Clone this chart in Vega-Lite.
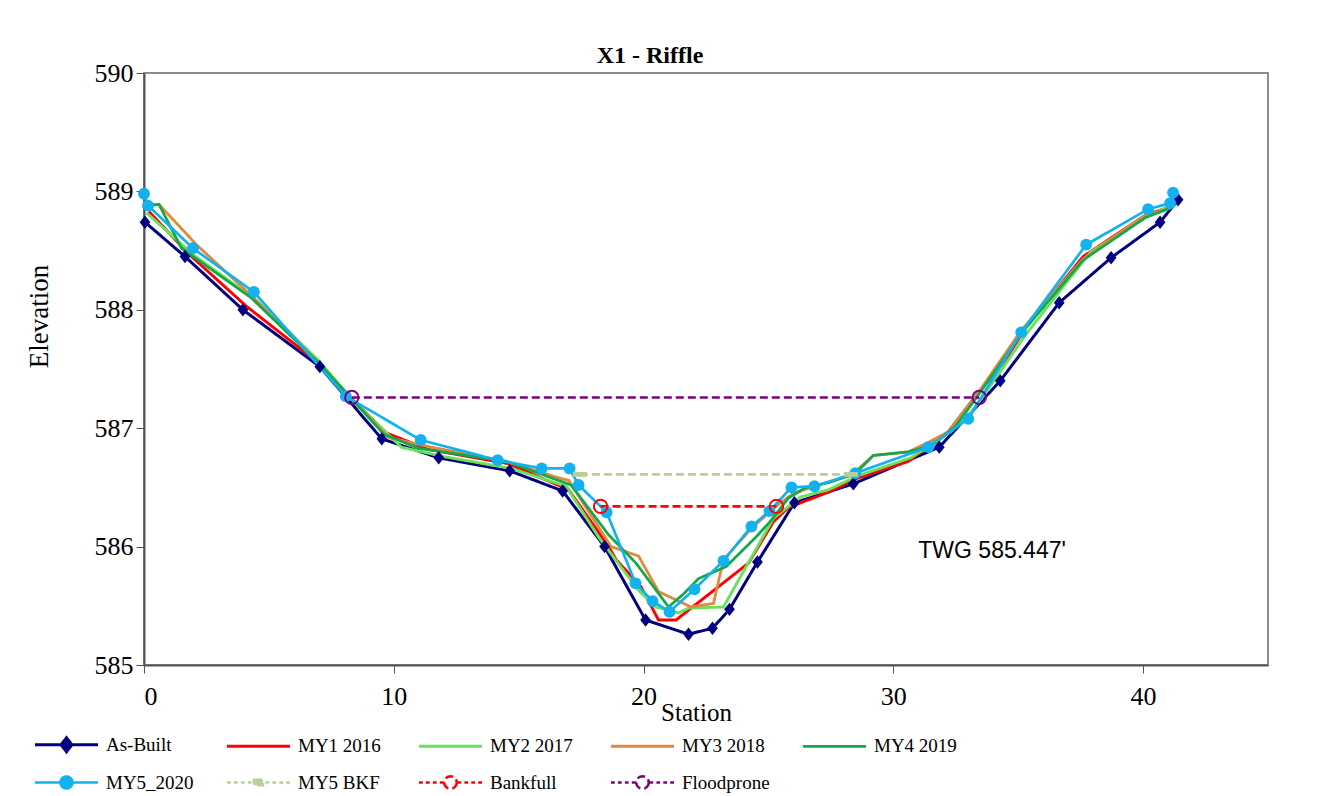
{
  "$schema": "https://vega.github.io/schema/vega-lite/v6.json",
  "width": 1124,
  "height": 592,
  "autosize": "none",
  "padding": {"left": 144, "top": 73, "right": 54, "bottom": 131},
  "background": "white",
  "config": {
    "view": {"stroke": "#8c8c8c", "strokeWidth": 2},
    "font": "Liberation Serif",
    "title": {"font": "Liberation Serif", "fontWeight": "bold", "fontSize": 24, "color": "black"}
  },
  "title": {
    "text": "X1 - Riffle",
    "font": "Liberation Serif",
    "fontSize": 24,
    "fontWeight": "bold",
    "color": "black",
    "anchor": "middle",
    "dx": -56,
    "offset": -8
  },
  "data": {
    "values": [
      {"s": "As-Built", "x": 0.04, "y": 588.74},
      {"s": "As-Built", "x": 1.64, "y": 588.45},
      {"s": "As-Built", "x": 3.96, "y": 588.0},
      {"s": "As-Built", "x": 7.04, "y": 587.52},
      {"s": "As-Built", "x": 9.52, "y": 586.91},
      {"s": "As-Built", "x": 11.8, "y": 586.75},
      {"s": "As-Built", "x": 14.64, "y": 586.64},
      {"s": "As-Built", "x": 16.76, "y": 586.47},
      {"s": "As-Built", "x": 18.44, "y": 586.0},
      {"s": "As-Built", "x": 20.08, "y": 585.38},
      {"s": "As-Built", "x": 21.8, "y": 585.26},
      {"s": "As-Built", "x": 22.76, "y": 585.31},
      {"s": "As-Built", "x": 23.44, "y": 585.47},
      {"s": "As-Built", "x": 24.56, "y": 585.87},
      {"s": "As-Built", "x": 26.04, "y": 586.37},
      {"s": "As-Built", "x": 28.4, "y": 586.53},
      {"s": "As-Built", "x": 31.84, "y": 586.84},
      {"s": "As-Built", "x": 34.28, "y": 587.4},
      {"s": "As-Built", "x": 36.64, "y": 588.06},
      {"s": "As-Built", "x": 38.72, "y": 588.44},
      {"s": "As-Built", "x": 40.68, "y": 588.74},
      {"s": "As-Built", "x": 41.4, "y": 588.93},

      {"s": "MY1 2016", "x": 0.2, "y": 588.83},
      {"s": "MY1 2016", "x": 1.8, "y": 588.47},
      {"s": "MY1 2016", "x": 4.1, "y": 588.03},
      {"s": "MY1 2016", "x": 7.0, "y": 587.55},
      {"s": "MY1 2016", "x": 8.3, "y": 587.25},
      {"s": "MY1 2016", "x": 9.7, "y": 586.96},
      {"s": "MY1 2016", "x": 11.4, "y": 586.82},
      {"s": "MY1 2016", "x": 14.6, "y": 586.7},
      {"s": "MY1 2016", "x": 17.0, "y": 586.48},
      {"s": "MY1 2016", "x": 18.6, "y": 586.0},
      {"s": "MY1 2016", "x": 18.9, "y": 585.89},
      {"s": "MY1 2016", "x": 19.9, "y": 585.66},
      {"s": "MY1 2016", "x": 20.6, "y": 585.38},
      {"s": "MY1 2016", "x": 21.3, "y": 585.38},
      {"s": "MY1 2016", "x": 24.2, "y": 585.86},
      {"s": "MY1 2016", "x": 25.2, "y": 586.21},
      {"s": "MY1 2016", "x": 25.8, "y": 586.33},
      {"s": "MY1 2016", "x": 27.4, "y": 586.46},
      {"s": "MY1 2016", "x": 28.6, "y": 586.58},
      {"s": "MY1 2016", "x": 30.6, "y": 586.72},
      {"s": "MY1 2016", "x": 32.2, "y": 586.97},
      {"s": "MY1 2016", "x": 33.4, "y": 587.3},
      {"s": "MY1 2016", "x": 34.5, "y": 587.58},
      {"s": "MY1 2016", "x": 35.3, "y": 587.85},
      {"s": "MY1 2016", "x": 37.6, "y": 588.45},
      {"s": "MY1 2016", "x": 40.1, "y": 588.8},
      {"s": "MY1 2016", "x": 41.1, "y": 588.87},

      {"s": "MY2 2017", "x": 0.1, "y": 588.82},
      {"s": "MY2 2017", "x": 2.0, "y": 588.46},
      {"s": "MY2 2017", "x": 4.5, "y": 588.08},
      {"s": "MY2 2017", "x": 7.0, "y": 587.57},
      {"s": "MY2 2017", "x": 8.3, "y": 587.25},
      {"s": "MY2 2017", "x": 10.3, "y": 586.84},
      {"s": "MY2 2017", "x": 12.0, "y": 586.76},
      {"s": "MY2 2017", "x": 14.7, "y": 586.66},
      {"s": "MY2 2017", "x": 16.9, "y": 586.51},
      {"s": "MY2 2017", "x": 18.2, "y": 586.08},
      {"s": "MY2 2017", "x": 19.8, "y": 585.63},
      {"s": "MY2 2017", "x": 20.5, "y": 585.49},
      {"s": "MY2 2017", "x": 21.4, "y": 585.44},
      {"s": "MY2 2017", "x": 21.8, "y": 585.48},
      {"s": "MY2 2017", "x": 23.2, "y": 585.49},
      {"s": "MY2 2017", "x": 25.2, "y": 586.24},
      {"s": "MY2 2017", "x": 26.3, "y": 586.42},
      {"s": "MY2 2017", "x": 27.4, "y": 586.48},
      {"s": "MY2 2017", "x": 28.6, "y": 586.6},
      {"s": "MY2 2017", "x": 30.7, "y": 586.75},
      {"s": "MY2 2017", "x": 32.3, "y": 586.97},
      {"s": "MY2 2017", "x": 33.1, "y": 587.13},
      {"s": "MY2 2017", "x": 33.6, "y": 587.27},
      {"s": "MY2 2017", "x": 35.3, "y": 587.79},
      {"s": "MY2 2017", "x": 37.9, "y": 588.49},
      {"s": "MY2 2017", "x": 40.1, "y": 588.78},
      {"s": "MY2 2017", "x": 41.0, "y": 588.87},

      {"s": "MY3 2018", "x": 0.1, "y": 588.89},
      {"s": "MY3 2018", "x": 0.6, "y": 588.89},
      {"s": "MY3 2018", "x": 2.1, "y": 588.55},
      {"s": "MY3 2018", "x": 4.3, "y": 588.12},
      {"s": "MY3 2018", "x": 7.0, "y": 587.55},
      {"s": "MY3 2018", "x": 8.3, "y": 587.25},
      {"s": "MY3 2018", "x": 9.8, "y": 586.92},
      {"s": "MY3 2018", "x": 11.5, "y": 586.84},
      {"s": "MY3 2018", "x": 14.5, "y": 586.72},
      {"s": "MY3 2018", "x": 16.6, "y": 586.58},
      {"s": "MY3 2018", "x": 17.0, "y": 586.56},
      {"s": "MY3 2018", "x": 18.7, "y": 586.0},
      {"s": "MY3 2018", "x": 19.8, "y": 585.92},
      {"s": "MY3 2018", "x": 20.6, "y": 585.62},
      {"s": "MY3 2018", "x": 21.9, "y": 585.49},
      {"s": "MY3 2018", "x": 22.8, "y": 585.52},
      {"s": "MY3 2018", "x": 23.2, "y": 585.89},
      {"s": "MY3 2018", "x": 24.3, "y": 586.15},
      {"s": "MY3 2018", "x": 25.3, "y": 586.34},
      {"s": "MY3 2018", "x": 26.0, "y": 586.45},
      {"s": "MY3 2018", "x": 27.0, "y": 586.52},
      {"s": "MY3 2018", "x": 28.3, "y": 586.6},
      {"s": "MY3 2018", "x": 29.2, "y": 586.77},
      {"s": "MY3 2018", "x": 30.6, "y": 586.8},
      {"s": "MY3 2018", "x": 31.4, "y": 586.88},
      {"s": "MY3 2018", "x": 32.2, "y": 586.97},
      {"s": "MY3 2018", "x": 33.4, "y": 587.3},
      {"s": "MY3 2018", "x": 35.1, "y": 587.82},
      {"s": "MY3 2018", "x": 37.6, "y": 588.43},
      {"s": "MY3 2018", "x": 40.0, "y": 588.79},
      {"s": "MY3 2018", "x": 41.1, "y": 588.86},

      {"s": "MY4 2019", "x": 0.2, "y": 588.88},
      {"s": "MY4 2019", "x": 0.6, "y": 588.89},
      {"s": "MY4 2019", "x": 1.5, "y": 588.52},
      {"s": "MY4 2019", "x": 4.3, "y": 588.1},
      {"s": "MY4 2019", "x": 7.0, "y": 587.55},
      {"s": "MY4 2019", "x": 8.3, "y": 587.25},
      {"s": "MY4 2019", "x": 9.6, "y": 586.95},
      {"s": "MY4 2019", "x": 11.0, "y": 586.83},
      {"s": "MY4 2019", "x": 14.5, "y": 586.72},
      {"s": "MY4 2019", "x": 17.1, "y": 586.52},
      {"s": "MY4 2019", "x": 18.6, "y": 586.1},
      {"s": "MY4 2019", "x": 19.7, "y": 585.86},
      {"s": "MY4 2019", "x": 21.0, "y": 585.49},
      {"s": "MY4 2019", "x": 21.6, "y": 585.6},
      {"s": "MY4 2019", "x": 22.2, "y": 585.73},
      {"s": "MY4 2019", "x": 23.3, "y": 585.83},
      {"s": "MY4 2019", "x": 24.5, "y": 586.08},
      {"s": "MY4 2019", "x": 25.1, "y": 586.22},
      {"s": "MY4 2019", "x": 25.8, "y": 586.41},
      {"s": "MY4 2019", "x": 26.5, "y": 586.5},
      {"s": "MY4 2019", "x": 27.4, "y": 586.54},
      {"s": "MY4 2019", "x": 28.5, "y": 586.62},
      {"s": "MY4 2019", "x": 29.2, "y": 586.77},
      {"s": "MY4 2019", "x": 30.6, "y": 586.8},
      {"s": "MY4 2019", "x": 31.6, "y": 586.86},
      {"s": "MY4 2019", "x": 32.5, "y": 587.02},
      {"s": "MY4 2019", "x": 33.4, "y": 587.28},
      {"s": "MY4 2019", "x": 35.2, "y": 587.82},
      {"s": "MY4 2019", "x": 37.6, "y": 588.42},
      {"s": "MY4 2019", "x": 40.1, "y": 588.78},
      {"s": "MY4 2019", "x": 41.1, "y": 588.86},

      {"s": "MY5_2020", "x": 0.0, "y": 588.98},
      {"s": "MY5_2020", "x": 0.16, "y": 588.88},
      {"s": "MY5_2020", "x": 1.96, "y": 588.52},
      {"s": "MY5_2020", "x": 4.4, "y": 588.15},
      {"s": "MY5_2020", "x": 8.08, "y": 587.27},
      {"s": "MY5_2020", "x": 11.08, "y": 586.9},
      {"s": "MY5_2020", "x": 14.16, "y": 586.73},
      {"s": "MY5_2020", "x": 15.92, "y": 586.66},
      {"s": "MY5_2020", "x": 17.04, "y": 586.66},
      {"s": "MY5_2020", "x": 17.4, "y": 586.52},
      {"s": "MY5_2020", "x": 18.52, "y": 586.29},
      {"s": "MY5_2020", "x": 19.68, "y": 585.69},
      {"s": "MY5_2020", "x": 20.36, "y": 585.54},
      {"s": "MY5_2020", "x": 21.04, "y": 585.45},
      {"s": "MY5_2020", "x": 22.04, "y": 585.64},
      {"s": "MY5_2020", "x": 23.2, "y": 585.88},
      {"s": "MY5_2020", "x": 24.32, "y": 586.17},
      {"s": "MY5_2020", "x": 25.04, "y": 586.3},
      {"s": "MY5_2020", "x": 25.92, "y": 586.5},
      {"s": "MY5_2020", "x": 26.84, "y": 586.51},
      {"s": "MY5_2020", "x": 28.48, "y": 586.62},
      {"s": "MY5_2020", "x": 31.4, "y": 586.84},
      {"s": "MY5_2020", "x": 33.0, "y": 587.08},
      {"s": "MY5_2020", "x": 35.12, "y": 587.81},
      {"s": "MY5_2020", "x": 37.72, "y": 588.55},
      {"s": "MY5_2020", "x": 40.2, "y": 588.85},
      {"s": "MY5_2020", "x": 41.08, "y": 588.9},
      {"s": "MY5_2020", "x": 41.2, "y": 588.99},

      {"s": "MY5 BKF", "x": 17.45, "y": 586.61},
      {"s": "MY5 BKF", "x": 28.3, "y": 586.61},

      {"s": "Bankfull", "x": 18.28, "y": 586.34},
      {"s": "Bankfull", "x": 25.32, "y": 586.34},

      {"s": "Floodprone", "x": 8.32, "y": 587.26},
      {"s": "Floodprone", "x": 33.44, "y": 587.26}
    ]
  },
  "layer": [
    {
      "mark": {"type": "line", "clip": false},
      "encoding": {
        "x": {
          "field": "x", "type": "quantitative",
          "scale": {"domain": [0, 45], "nice": false, "zero": false},
          "axis": {
            "title": "Station",
            "values": [0, 10, 20, 30, 40],
            "format": "d",
            "grid": false,
            "labelFont": "Liberation Serif",
            "labelFontSize": 26,
            "labelColor": "black",
            "labelPadding": 10,
            "tickColor": "#555555",
            "tickSize": 8,
            "tickWidth": 1,
            "domainColor": "#555555",
            "domainWidth": 2,
            "titleFont": "Liberation Serif",
            "titleFontSize": 25,
            "titleFontWeight": "normal",
            "titleColor": "black",
            "titleX": 552,
            "titleY": 55,
            "titleBaseline": "alphabetic"
          }
        },
        "y": {
          "field": "y", "type": "quantitative",
          "scale": {"domain": [585, 590], "nice": false, "zero": false},
          "axis": {
            "title": "Elevation",
            "values": [585, 586, 587, 588, 589, 590],
            "format": "d",
            "grid": false,
            "labelFont": "Liberation Serif",
            "labelFontSize": 26,
            "labelColor": "black",
            "labelPadding": 3,
            "tickColor": "#555555",
            "tickSize": 8,
            "tickWidth": 1,
            "domainColor": "#555555",
            "domainWidth": 2,
            "titleFont": "Liberation Serif",
            "titleFontSize": 27,
            "titleFontWeight": "normal",
            "titleColor": "black",
            "titleX": -97,
            "titleY": 243,
            "titleBaseline": "alphabetic"
          }
        },
        "color": {
          "field": "s", "type": "nominal",
          "scale": {
            "domain": ["As-Built", "MY1 2016", "MY2 2017", "MY3 2018", "MY4 2019", "MY5_2020", "MY5 BKF", "Bankfull", "Floodprone"],
            "range": ["#000080", "#ff0000", "#66e35a", "#e08a3f", "#14a84a", "#12b2ee", "#b8cf96", "#ff0000", "#800080"]
          },
          "legend": {
            "orient": "none",
            "legendX": -89,
            "legendY": 660,
            "direction": "horizontal",
            "columns": 5,
            "gridAlign": "all",
            "title": null,
            "padding": 0,
            "symbolSize": 400,
            "symbolType": "M-3.15,0L3.15,0",
            "symbolStrokeWidth": 2.5,
            "labelFont": "Liberation Serif",
            "labelFontSize": 19,
            "labelColor": "black",
            "labelOffset": 28,
            "columnPadding": 27,
            "rowPadding": 13,
            "encode": {
              "symbols": {
                "update": {
                  "shape": {"signal": "datum.value === 'As-Built' ? 'M-3.15,0L3.15,0M0,-0.7L0.54,0L0,0.7L-0.54,0Z' : datum.value === 'MY5_2020' ? 'M-3.15,0L3.15,0M0.6,0L0.554,0.23L0.424,0.424L0.23,0.554L0,0.6L-0.23,0.554L-0.424,0.424L-0.554,0.23L-0.6,0L-0.554,-0.23L-0.424,-0.424L-0.23,-0.554L0,-0.6L0.23,-0.554L0.424,-0.424L0.554,-0.23Z' : datum.value === 'MY5 BKF' ? 'M-3.15,0H-2.77M-2.46,0H-2.08M-1.76,0H-1.39M-1.07,0H-0.69M-0.44,-0.28H0.44V0.28H-0.44ZM0.69,0H1.07M1.39,0H1.76M2.08,0H2.46M2.77,0H3.15' : (datum.value === 'Bankfull' || datum.value === 'Floodprone') ? 'M-3.15,0H-2.77M-2.46,0H-2.08M-1.76,0H-1.39M-1.07,0H-0.63M0.63,0L0.582,0.241L0.445,0.445L0.241,0.582L0,0.63L-0.241,0.582L-0.445,0.445L-0.582,0.241L-0.63,0L-0.582,-0.241L-0.445,-0.445L-0.241,-0.582L0,-0.63L0.241,-0.582L0.445,-0.445L0.582,-0.241ZM0.63,0H1.07M1.39,0H1.76M2.08,0H2.46M2.77,0H3.15' : 'M-3.15,0L3.15,0'"},
                  "fill": {"signal": "datum.value === 'As-Built' ? '#000080' : datum.value === 'MY5_2020' ? '#12b2ee' : datum.value === 'MY5 BKF' ? '#b8cf96' : (datum.value === 'Bankfull' || datum.value === 'Floodprone') ? 'white' : 'transparent'"},
                  "strokeWidth": {"signal": "(datum.value === 'As-Built' || datum.value === 'MY5_2020') ? 3 : 2.5"},
                  "strokeDash": {"value": [1, 0]},
                  "opacity": {"value": 1}
                }
              }
            }
          }
        },
        "strokeWidth": {
          "field": "s", "type": "nominal",
          "scale": {
            "domain": ["As-Built", "MY1 2016", "MY2 2017", "MY3 2018", "MY4 2019", "MY5_2020", "MY5 BKF", "Bankfull", "Floodprone"],
            "range": [3, 2.5, 2, 2, 2, 3.5, 2.5, 2.5, 2.5]
          },
          "legend": null
        },
        "strokeDash": {
          "field": "s", "type": "nominal",
          "scale": {
            "domain": ["As-Built", "MY1 2016", "MY2 2017", "MY3 2018", "MY4 2019", "MY5_2020", "MY5 BKF", "Bankfull", "Floodprone"],
            "range": [[1, 0], [1, 0], [1, 0], [1, 0], [1, 0], [1, 0], [8, 4], [8, 4], [8, 4]]
          },
          "legend": null
        }
      }
    },
    {
      "transform": [{"filter": "datum.s === 'As-Built'"}],
      "mark": {"type": "point", "shape": "M0,-1L0.8,0L0,1L-0.8,0Z", "filled": true, "size": 180, "color": "#000080", "opacity": 1, "clip": false},
      "encoding": {
        "x": {"field": "x", "type": "quantitative"},
        "y": {"field": "y", "type": "quantitative"}
      }
    },
    {
      "transform": [{"filter": "datum.s === 'MY5_2020'"}],
      "mark": {"type": "point", "shape": "circle", "filled": true, "size": 140, "color": "#12b2ee", "opacity": 1, "clip": false},
      "encoding": {
        "x": {"field": "x", "type": "quantitative"},
        "y": {"field": "y", "type": "quantitative"}
      }
    },
    {
      "transform": [{"filter": "datum.s === 'MY5 BKF'"}],
      "mark": {"type": "point", "shape": "M-1,-0.35H1V0.35H-1Z", "filled": true, "size": 196, "color": "#b8cf96", "opacity": 1, "clip": false},
      "encoding": {
        "x": {"field": "x", "type": "quantitative"},
        "y": {"field": "y", "type": "quantitative"}
      }
    },
    {
      "transform": [{"filter": "datum.s === 'Bankfull'"}],
      "mark": {"type": "point", "shape": "circle", "filled": false, "size": 180, "strokeWidth": 2, "color": "#ff0000", "opacity": 1, "clip": false},
      "encoding": {
        "x": {"field": "x", "type": "quantitative"},
        "y": {"field": "y", "type": "quantitative"}
      }
    },
    {
      "transform": [{"filter": "datum.s === 'Floodprone'"}],
      "mark": {"type": "point", "shape": "circle", "filled": false, "size": 180, "strokeWidth": 2, "color": "#800080", "opacity": 1, "clip": false},
      "encoding": {
        "x": {"field": "x", "type": "quantitative"},
        "y": {"field": "y", "type": "quantitative"}
      }
    },
    {
      "data": {"values": [{"x": 31.0, "y": 585.9, "label": "TWG 585.447'"}]},
      "mark": {"type": "text", "align": "left", "baseline": "alphabetic", "font": "Liberation Sans", "fontSize": 23, "color": "black"},
      "encoding": {
        "x": {"field": "x", "type": "quantitative"},
        "y": {"field": "y", "type": "quantitative"},
        "text": {"field": "label"}
      }
    }
  ]
}
